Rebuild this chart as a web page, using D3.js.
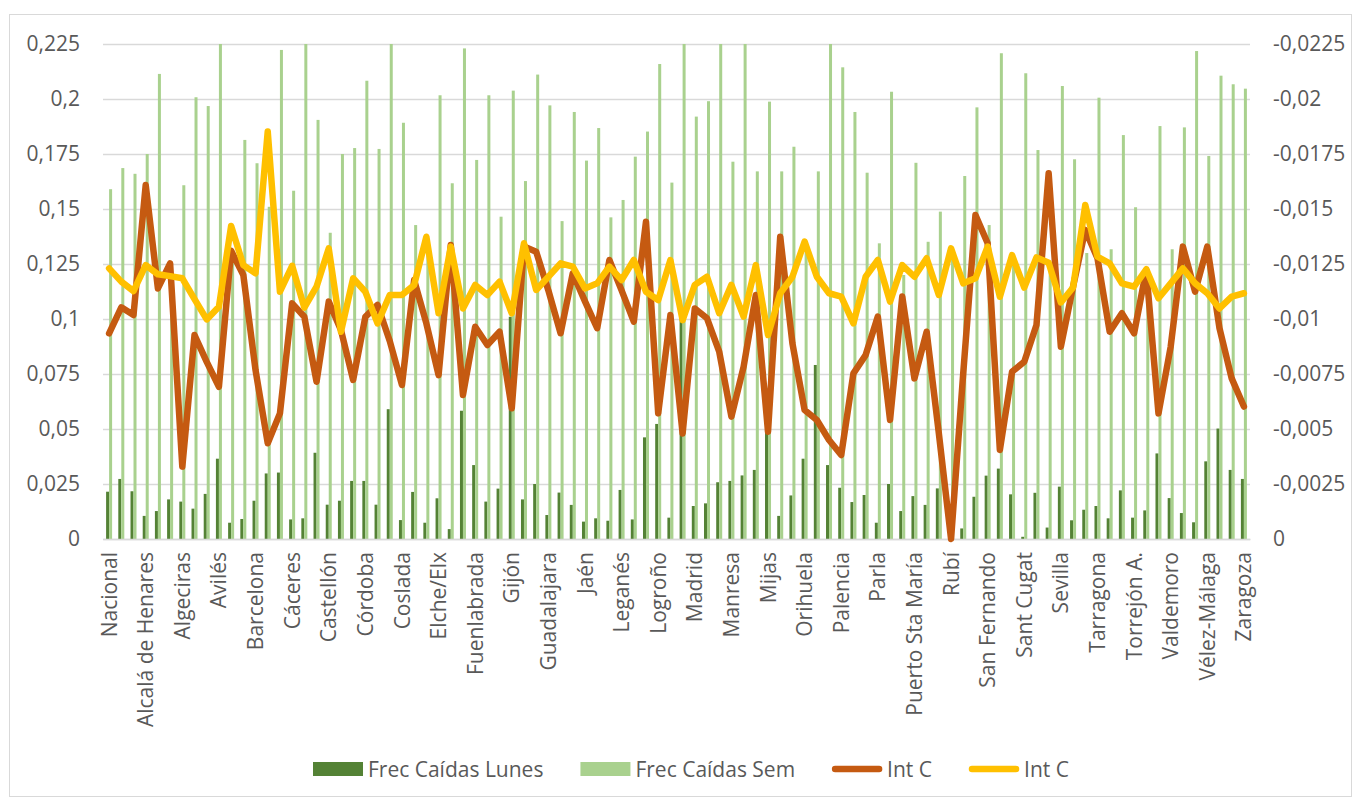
<!DOCTYPE html>
<html>
<head>
<meta charset="utf-8">
<script src="https://cdn.jsdelivr.net/npm/d3@7"></script>
<style>
  body { margin: 0; background: #fff; }
  text { font-family: "Open Sans", sans-serif; fill: #595959; }
</style>
</head>
<body>
<svg id="chart" width="1356" height="801"></svg>
<script>
// every third category carries a label on the axis
var tickLabels = ['Nacional', 'Alcalá de Henares', 'Algeciras', 'Avilés', 'Barcelona', 'Cáceres',
  'Castellón', 'Córdoba', 'Coslada', 'Elche/Elx', 'Fuenlabrada', 'Gijón', 'Guadalajara', 'Jaén',
  'Leganés', 'Logroño', 'Madrid', 'Manresa', 'Mijas', 'Orihuela', 'Palencia', 'Parla',
  'Puerto Sta María', 'Rubí', 'San Fernando', 'Sant Cugat', 'Sevilla', 'Tarragona', 'Torrejón A.',
  'Valdemoro', 'Vélez-Málaga', 'Zaragoza'];
var labelEvery = 3;

// bars, left axis
var frecLunes = [0.0215, 0.0273, 0.0217, 0.0105, 0.0127, 0.018, 0.017, 0.0138, 0.0205, 0.0365,
  0.0074, 0.0091, 0.0174, 0.0298, 0.0302, 0.0089, 0.0094, 0.0392, 0.0156, 0.0174,
  0.0264, 0.0264, 0.0156, 0.059, 0.0086, 0.0214, 0.0074, 0.0185, 0.0045, 0.0583,
  0.0336, 0.017, 0.0229, 0.101, 0.018, 0.025, 0.0109, 0.0211, 0.0155, 0.0079,
  0.0094, 0.0083, 0.0223, 0.0089, 0.0462, 0.0523, 0.0097, 0.1, 0.015, 0.0162,
  0.0258, 0.0264, 0.0289, 0.0314, 0.049, 0.0105, 0.0198, 0.0365, 0.0791, 0.0336,
  0.0233, 0.0168, 0.02, 0.0074, 0.025, 0.0127, 0.0195, 0.0155, 0.023, 0.003,
  0.0048, 0.0192, 0.0288, 0.032, 0.0203, 0.001, 0.021, 0.0052, 0.0238, 0.0085,
  0.0133, 0.015, 0.0094, 0.0221, 0.0097, 0.013, 0.0389, 0.0186, 0.0118, 0.0076,
  0.0353, 0.0502, 0.0314, 0.0273];
var frecSem = [0.159, 0.1686, 0.166, 0.175, 0.2114, 0.12, 0.1608, 0.2008, 0.1968, 0.225,
  0.128, 0.1814, 0.1708, 0.151, 0.2223, 0.1583, 0.225, 0.1905, 0.1392, 0.175,
  0.1777, 0.2083, 0.1773, 0.225, 0.1892, 0.1427, 0.135, 0.2017, 0.1617, 0.223,
  0.1723, 0.2017, 0.1465, 0.2038, 0.1627, 0.2111, 0.1971, 0.1445, 0.1941, 0.172,
  0.1868, 0.1462, 0.1541, 0.1738, 0.1852, 0.2159, 0.162, 0.225, 0.192, 0.199,
  0.225, 0.1715, 0.225, 0.1671, 0.1988, 0.1671, 0.1783, 0.134, 0.1671, 0.225,
  0.2144, 0.1941, 0.1665, 0.1344, 0.2033, 0.12, 0.171, 0.1351, 0.1488, 0.13,
  0.165, 0.1962, 0.1427, 0.2208, 0.125, 0.2117, 0.1768, 0.125, 0.2059, 0.1726,
  0.13, 0.2006, 0.1317, 0.1836, 0.1508, 0.12, 0.1877, 0.1317, 0.1871, 0.2218,
  0.1741, 0.2106, 0.2067, 0.2047];

// lines, right axis
var intCNaranja = [-0.00935, -0.01053, -0.01018, -0.01609, -0.01139, -0.01253, -0.00329, -0.00927, -0.00805, -0.00692,
  -0.0131, -0.012, -0.00768, -0.00435, -0.00571, -0.01071, -0.0101, -0.00715, -0.01079, -0.0095,
  -0.00723, -0.0101, -0.01064, -0.009, -0.007, -0.01177, -0.0098, -0.00745, -0.01336, -0.00655,
  -0.00965, -0.00882, -0.00942, -0.00594, -0.01329, -0.01306, -0.0113, -0.00935, -0.01208, -0.0108,
  -0.00958, -0.01268, -0.0113, -0.00988, -0.01442, -0.00571, -0.01018, -0.0048, -0.01048, -0.01003,
  -0.00852, -0.00556, -0.00783, -0.01109, -0.00488, -0.01374, -0.00889, -0.00586, -0.00541, -0.0045,
  -0.00382, -0.00753, -0.00836, -0.01011, -0.00541, -0.01102, -0.0073, -0.00942, -0.0048, 0,
  -0.00755, -0.01473, -0.01344, -0.00405, -0.0076, -0.00806, -0.00973, -0.01662, -0.00874, -0.01147,
  -0.01405, -0.01276, -0.00942, -0.01026, -0.00935, -0.01223, -0.00571, -0.00874, -0.01329, -0.01124,
  -0.01329, -0.00958, -0.0073, -0.00602];
var intCAmarillo = [-0.0123, -0.0117, -0.01127, -0.01245, -0.01203, -0.01195, -0.01185, -0.0109, -0.00998, -0.01056,
  -0.01423, -0.01245, -0.01208, -0.01852, -0.01124, -0.01242, -0.01052, -0.01147, -0.01321, -0.00942,
  -0.01185, -0.01124, -0.0098, -0.01109, -0.01109, -0.01155, -0.01374, -0.01026, -0.01329, -0.01048,
  -0.01155, -0.01109, -0.0117, -0.01026, -0.01344, -0.01132, -0.01192, -0.01253, -0.01238, -0.01139,
  -0.01162, -0.01238, -0.01177, -0.01268, -0.01124, -0.01086, -0.01268, -0.00995, -0.01155, -0.01192,
  -0.01026, -0.01155, -0.01011, -0.01245, -0.00927, -0.01117, -0.01192, -0.01352, -0.01192, -0.01117,
  -0.01102, -0.0098, -0.01192, -0.01268, -0.01079, -0.01245, -0.01192, -0.01276, -0.01109, -0.01321,
  -0.01162, -0.01185, -0.01329, -0.01101, -0.0129, -0.01143, -0.0128, -0.01256, -0.01075, -0.01143,
  -0.01518, -0.01283, -0.01253, -0.01162, -0.01147, -0.01226, -0.01094, -0.01162, -0.0123, -0.01162,
  -0.01117, -0.01048, -0.01102, -0.01117];

var leftTicks = [0, 0.025, 0.05, 0.075, 0.1, 0.125, 0.15, 0.175, 0.2, 0.225];
var rightTicks = [0, -0.0025, -0.005, -0.0075, -0.01, -0.0125, -0.015, -0.0175, -0.02, -0.0225];

var svg = d3.select('#chart');
var plot = {left: 103, right: 1250, top: 44, bottom: 539};
var fontSize = '21px';

var esLocale = d3.formatLocale({decimal: ',', thousands: '.', grouping: [3], currency: ['', ' €'], minus: '-'});
var fmt = esLocale.format('~g');

svg.append('rect')
  .attr('x', 9.5).attr('y', 14.5)
  .attr('width', 1342).attr('height', 782)
  .attr('fill', 'none').attr('stroke', '#d9d9d9');

var x = d3.scaleBand()
  .domain(d3.range(frecLunes.length))
  .range([plot.left, plot.right])
  .paddingInner(0.508)
  .paddingOuter(0.254);
var xSub = d3.scaleBand().domain(['lunes', 'sem']).range([0, x.bandwidth()]);
var yLeft = d3.scaleLinear().domain([0, 0.225]).range([plot.bottom, plot.top]);
var yRight = d3.scaleLinear().domain([0, -0.0225]).range([plot.bottom, plot.top]);

// gridlines
var grid = svg.append('g')
  .attr('transform', 'translate(' + plot.left + ',0)')
  .call(d3.axisLeft(yLeft).tickValues(leftTicks).tickSize(-(plot.right - plot.left)).tickFormat(''));
grid.select('.domain').remove();
grid.selectAll('line').attr('stroke', '#d9d9d9').attr('stroke-width', 1.3);

// left axis labels
var axL = svg.append('g')
  .attr('transform', 'translate(' + plot.left + ',0)')
  .call(d3.axisLeft(yLeft).tickValues(leftTicks).tickSize(0).tickPadding(23).tickFormat(fmt));
axL.select('.domain').remove();
axL.selectAll('text').style('font-size', fontSize).attr('fill', '#595959');

// right axis labels
var axR = svg.append('g')
  .attr('transform', 'translate(' + plot.right + ',0)')
  .call(d3.axisRight(yRight).tickValues(rightTicks).tickSize(0).tickPadding(23).tickFormat(fmt));
axR.select('.domain').remove();
axR.selectAll('text').style('font-size', fontSize).attr('fill', '#595959');

// bars
var groups = svg.append('g').selectAll('g')
  .data(frecLunes.map(function(d, i) { return {i: i, lunes: d, sem: frecSem[i]}; }))
  .join('g')
  .attr('transform', function(d) { return 'translate(' + x(d.i) + ',0)'; });

groups.append('rect')
  .attr('x', xSub('lunes'))
  .attr('width', xSub.bandwidth())
  .attr('y', function(d) { return yLeft(d.lunes); })
  .attr('height', function(d) { return yLeft(0) - yLeft(d.lunes); })
  .attr('fill', '#548235');

groups.append('rect')
  .attr('x', xSub('sem'))
  .attr('width', xSub.bandwidth())
  .attr('y', function(d) { return yLeft(d.sem); })
  .attr('height', function(d) { return yLeft(0) - yLeft(d.sem); })
  .attr('fill', '#a9d18e');

// x axis
var axX = svg.append('g')
  .attr('transform', 'translate(0,' + plot.bottom + ')')
  .call(d3.axisBottom(x)
    .tickValues(d3.range(0, frecLunes.length, labelEvery))
    .tickSize(0)
    .tickFormat(function(i) { return tickLabels[i / labelEvery]; }));
axX.select('.domain').attr('stroke', '#d9d9d9').attr('stroke-width', 1.3);
axX.selectAll('text')
  .style('font-size', fontSize)
  .attr('fill', '#595959')
  .attr('text-anchor', 'end')
  .attr('transform', 'rotate(-90)')
  .attr('x', -13)
  .attr('y', 0)
  .attr('dy', '0.36em');

// lines
var line = d3.line()
  .x(function(d, i) { return x(i) + x.bandwidth() / 2; })
  .y(function(d) { return yRight(d); });

[[intCNaranja, '#c55a11'], [intCAmarillo, '#ffc000']].forEach(function(s) {
  svg.append('path')
    .datum(s[0])
    .attr('d', line)
    .attr('fill', 'none')
    .attr('stroke', s[1])
    .attr('stroke-width', 6.5)
    .attr('stroke-linejoin', 'round')
    .attr('stroke-linecap', 'round');
});

// legend
var legendItems = [
  {name: 'Frec Caídas Lunes', color: '#548235', type: 'rect'},
  {name: 'Frec Caídas Sem', color: '#a9d18e', type: 'rect'},
  {name: 'Int C', color: '#c55a11', type: 'line'},
  {name: 'Int C', color: '#ffc000', type: 'line'}
];
var legend = svg.append('g');
var lx = 313, ly = 769;
legendItems.forEach(function(item) {
  if (item.type === 'rect') {
    legend.append('rect').attr('x', lx).attr('y', ly - 7).attr('width', 50).attr('height', 14).attr('fill', item.color);
  } else {
    legend.append('line').attr('x1', lx + 3).attr('x2', lx + 47).attr('y1', ly).attr('y2', ly)
      .attr('stroke', item.color).attr('stroke-width', 6.5).attr('stroke-linecap', 'round');
  }
  var t = legend.append('text').attr('x', lx + 55).attr('y', ly).attr('dy', '0.36em')
    .style('font-size', fontSize).text(item.name);
  lx += 55 + t.node().getComputedTextLength() + 37;
});
</script>
</body>
</html>
